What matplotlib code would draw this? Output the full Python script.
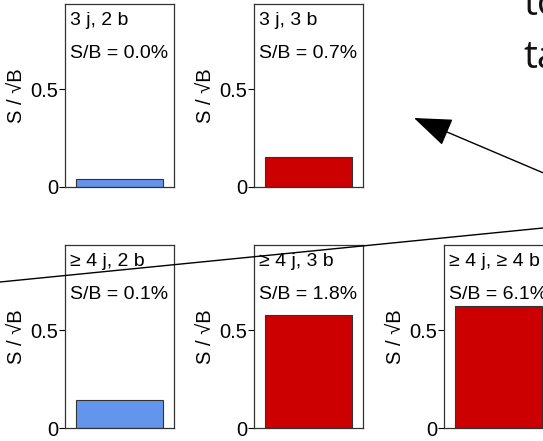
import matplotlib.pyplot as plt
from matplotlib.patches import FancyArrowPatch

# category labels, S/B text and S/sqrt(B) values per panel
categories = ['3 j, 2 b', '3 j, 3 b', '≥ 4 j, 2 b', '≥ 4 j, 3 b', '≥ 4 j, ≥ 4 b']
s_over_b = ['0.0%', '0.7%', '0.1%', '1.8%', '6.1%']
signif = [0.04, 0.153, 0.143, 0.577, 0.622]
bar_colors = ['#6495ED', '#CC0000', '#6495ED', '#CC0000', '#CC0000']

# panel boxes in pixels: left, top (image coords)
boxes = [(65, 4), (254, 4), (65, 245), (254, 245), (444, 245)]
W, H = 543, 441
bw, bh = 109, 183

plt.rcParams['font.family'] = ['Liberation Sans', 'DejaVu Sans']
fig = plt.figure(figsize=(W / 100, H / 100), dpi=100)

for (x0, y0), cat, sb, val, col in zip(boxes, categories, s_over_b, signif, bar_colors):
    ax = fig.add_axes([x0 / W, 1 - (y0 + bh) / H, bw / W, bh / H])
    ax.bar([0.5], [val], width=0.8, color=col, edgecolor='#333333', linewidth=0.8)
    ax.set_xlim(0, 1)
    ax.set_ylim(0, 0.934)
    ax.set_xticks([])
    ax.set_yticks([0, 0.5])
    ax.set_yticklabels(['0', '0.5'])
    ax.tick_params(axis='y', direction='out', length=4, width=0.8, labelsize=14.5, pad=1)
    for s in ax.spines.values():
        s.set_color('#333333')
        s.set_linewidth(0.9)
    ax.set_ylabel('S / √B', fontsize=14.5, labelpad=3)
    ax.text(0.05, 0.885, cat, transform=ax.transAxes, fontsize=14, va='baseline', ha='left')
    ax.text(0.05, 0.705, 'S/B = ' + sb, transform=ax.transAxes, fontsize=14, va='baseline', ha='left')

# slide overlay: arrow, line and clipped text
ov = fig.add_axes([0, 0, 1, 1], zorder=10)
ov.set_xlim(0, W)
ov.set_ylim(H, 0)
ov.axis('off')
ov.patch.set_alpha(0)
ov.plot([0, 543], [282, 228], color='black', lw=1)
arr = FancyArrowPatch((560, 180), (414, 118), arrowstyle='-|>,head_length=12,head_width=4.5',
                      color='black', lw=1, mutation_scale=2, shrinkA=0, shrinkB=0)
ov.add_patch(arr)
ov.text(523, 15, 'to', fontsize=28, family='Open Sans', color='#111111', va='baseline', ha='left')
ov.text(523, 68, 'ta', fontsize=28, family='Open Sans', color='#111111', va='baseline', ha='left')

fig.savefig('out.png', dpi=100)
